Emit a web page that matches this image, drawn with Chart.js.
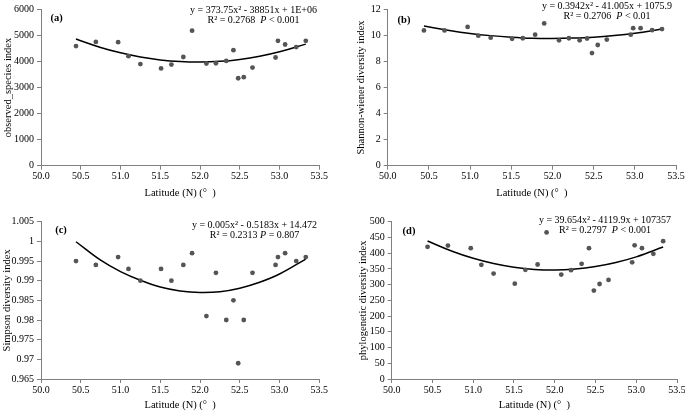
<!DOCTYPE html>
<html lang="en">
<head>
<meta charset="UTF-8">
<title>Diversity vs latitude</title>
<script src="https://cdn.jsdelivr.net/npm/chart.js"></script>
<style>
  html, body { margin: 0; padding: 0; background: #fff; overflow: hidden; width: 685px; height: 412px; }
  canvas { position: absolute; }
</style>
</head>
<body>
<canvas id="chartA" width="340" height="205" style="left:0px;top:0px"></canvas>
<canvas id="chartB" width="365" height="205" style="left:340px;top:0px"></canvas>
<canvas id="chartC" width="340" height="207" style="left:0px;top:205px"></canvas>
<canvas id="chartD" width="365" height="207" style="left:340px;top:205px"></canvas>
<script>
// sampling sites (latitude, N)
const latitude = [50.44, 50.69, 50.97, 51.10, 51.25, 51.51, 51.64, 51.79, 51.90, 52.08, 52.20,
                  52.33, 52.42, 52.48, 52.55, 52.66, 52.95, 52.98, 53.07, 53.21, 53.33];

const observedSpecies = [4590, 4750, 4740, 4200, 3900, 3730, 3880, 4170, 5180, 3920, 3930,
                         4020, 4430, 3355, 3395, 3765, 4150, 4790, 4650, 4550, 4790];
const shannon = [10.38, 10.38, 10.65, 9.98, 9.82, 9.74, 9.78, 10.05, 10.92, 9.62, 9.78,
                 9.62, 9.76, 8.64, 9.26, 9.68, 10.05, 10.55, 10.55, 10.40, 10.48];
const simpson = [0.995, 0.994, 0.996, 0.993, 0.990, 0.993, 0.990, 0.994, 0.997, 0.981, 0.992,
                 0.980, 0.985, 0.969, 0.980, 0.992, 0.994, 0.996, 0.997, 0.995, 0.996];
const phylo = [420, 424, 416, 363, 335, 303, 347, 364, 466, 332, 346,
               366, 416, 281, 302, 315, 371, 425, 416, 398, 438];

// trend lines
const fitLatitude = [50.44, 50.75, 51.0, 51.25, 51.5, 51.75, 52.0, 52.25, 52.5, 52.75, 53.0, 53.33];
const fitObserved = [4860, 4536, 4330, 4171, 4059, 3994, 3975, 4003, 4078, 4199, 4368, 4665];
const fitShannon  = [10.72, 10.38, 10.15, 9.98, 9.86, 9.78, 9.76, 9.79, 9.86, 9.99, 10.17, 10.48];
const fitSimpson  = [0.9999, 0.9952, 0.9923, 0.9901, 0.9884, 0.9874, 0.9870, 0.9872, 0.9881, 0.9896, 0.9917, 0.9955];
const fitPhylo    = [438.6, 405.2, 383.6, 366.9, 355.1, 348.3, 346.4, 349.5, 357.5, 370.4, 388.3, 419.5];

const xTitle = 'Latitude (N) (°  )';
const yTitles = ['observed_species index', 'Shannon-wiener diversity index', 'Simpson diversity index', 'phylogenetic diversity index'];
const panelLetters = ['(a)', '(b)', '(c)', '(d)'];
const equations = [
  'y = 373.75x² - 38851x + 1E+06',
  'y = 0.3942x² - 41.005x + 1075.9',
  'y = 0.005x² - 0.5183x + 14.472',
  'y = 39.654x² - 4119.9x + 107357'
];
const rSquared = ['R² = 0.2768  ', 'R² = 0.2706  ', 'R² = 0.2313 ', 'R² = 0.2797  '];
const pValues = [' < 0.001', ' < 0.01', ' = 0.807', ' < 0.001'];

const SERIF = '"Liberation Serif", "Times New Roman", serif';

const notes = {
  id: 'notes',
  afterDraw(chart, args, o) {
    const ctx = chart.ctx;
    ctx.save();
    ctx.fillStyle = '#000';
    ctx.textBaseline = 'middle';
    ctx.textAlign = 'center';
    ctx.font = 'bold 10.5px ' + SERIF;
    ctx.fillText(o.letter, o.letterX, o.letterY);
    ctx.font = '10px ' + SERIF;
    ctx.fillText(o.eq, o.eqX, o.eqY1);
    // second line with italic P
    const normal = '10px ' + SERIF, italic = 'italic 10px ' + SERIF;
    ctx.textAlign = 'left';
    ctx.font = normal; const w1 = ctx.measureText(o.r2).width;
    ctx.font = italic; const w2 = ctx.measureText('P').width;
    ctx.font = normal; const w3 = ctx.measureText(o.p).width;
    let x = o.eqX - (w1 + w2 + w3) / 2;
    ctx.fillText(o.r2, x, o.eqY2); x += w1;
    ctx.font = italic; ctx.fillText('P', x, o.eqY2); x += w2;
    ctx.font = normal; ctx.fillText(o.p, x, o.eqY2);
    ctx.restore();
  }
};

function fmt(v) {
  return String(parseFloat(Number(v).toFixed(4)));
}

function makePanel(id, idx, ys, fitYs, yMin, yMax, yStep, box) {
  const pts = latitude.map((x, i) => ({ x: x, y: ys[i] }));
  const fit = fitLatitude.map((x, i) => ({ x: x, y: fitYs[i] }));
  new Chart(document.getElementById(id), {
    type: 'scatter',
    data: {
      datasets: [
        { data: pts, pointRadius: 2.4, pointBackgroundColor: '#555', pointBorderWidth: 0, showLine: false },
        { data: fit, showLine: true, pointRadius: 0, borderColor: '#000', borderWidth: 1.5, tension: 0.4, fill: false }
      ]
    },
    options: {
      responsive: false,
      animation: false,
      layout: { padding: { left: 0, top: box.top, right: box.right, bottom: 0 } },
      plugins: {
        legend: { display: false },
        tooltip: { enabled: false },
        notes: box.notes
      },
      scales: {
        x: {
          type: 'linear', min: 50, max: 53.5,
          afterFit: s => { s.height = box.xHeight; },
          grid: { drawOnChartArea: false, color: '#808080', tickLength: 4 },
          border: { color: '#808080' },
          ticks: { stepSize: 0.5, autoSkip: false, maxRotation: 0, padding: 1, color: '#000',
                   font: { family: SERIF, size: 10 }, callback: v => Number(v).toFixed(1) },
          title: { display: true, text: xTitle, color: '#000', font: { family: SERIF, size: 10.5 },
                   padding: { top: 0, bottom: box.xTitlePad } }
        },
        y: {
          min: yMin, max: yMax,
          afterFit: s => { s.width = box.yWidth; },
          grid: { drawOnChartArea: false, color: '#808080', tickLength: 4 },
          border: { color: '#808080' },
          ticks: { stepSize: yStep, autoSkip: false, padding: 3, color: '#000',
                   font: { family: SERIF, size: 10 }, callback: v => fmt(v) },
          title: { display: true, text: yTitles[idx], color: '#000', font: { family: SERIF, size: 10.5 },
                   padding: { top: box.yTitlePad, bottom: 0 } }
        }
      }
    },
    plugins: [notes]
  });
}

makePanel('chartA', 0, observedSpecies, fitObserved, 0, 6000, 1000, {
  top: 9.3, right: 20.7, yWidth: 41, xHeight: 39.3, yTitlePad: 2, xTitlePad: 5.4,
  notes: { letter: panelLetters[0], letterX: 56.7, letterY: 18.3, eq: equations[0], r2: rSquared[0], p: pValues[0],
           eqX: 253.5, eqY1: 10, eqY2: 20.5 }
});
makePanel('chartB', 1, shannon, fitShannon, 0, 12, 2, {
  top: 9.3, right: 29, yWidth: 47.7, xHeight: 39.3, yTitlePad: 15.4, xTitlePad: 5.4,
  notes: { letter: panelLetters[1], letterX: 64, letterY: 20, eq: equations[1], r2: rSquared[1], p: pValues[1],
           eqX: 267, eqY1: 6.5, eqY2: 16.7 }
});
makePanel('chartC', 2, simpson, fitSimpson, 0.965, 1.005, 0.005, {
  top: 16.7, right: 20.7, yWidth: 41, xHeight: 33, yTitlePad: 1.2, xTitlePad: 0.7,
  notes: { letter: panelLetters[2], letterX: 61, letterY: 25, eq: equations[2], r2: rSquared[2], p: pValues[2],
           eqX: 254.5, eqY1: 20, eqY2: 30.7 }
});
makePanel('chartD', 3, phylo, fitPhylo, 0, 500, 50, {
  top: 16.7, right: 28, yWidth: 51.7, xHeight: 33, yTitlePad: 17, xTitlePad: 0.7,
  notes: { letter: panelLetters[3], letterX: 69, letterY: 26, eq: equations[3], r2: rSquared[3], p: pValues[3],
           eqX: 265, eqY1: 15, eqY2: 25 }
});
</script>
</body>
</html>
